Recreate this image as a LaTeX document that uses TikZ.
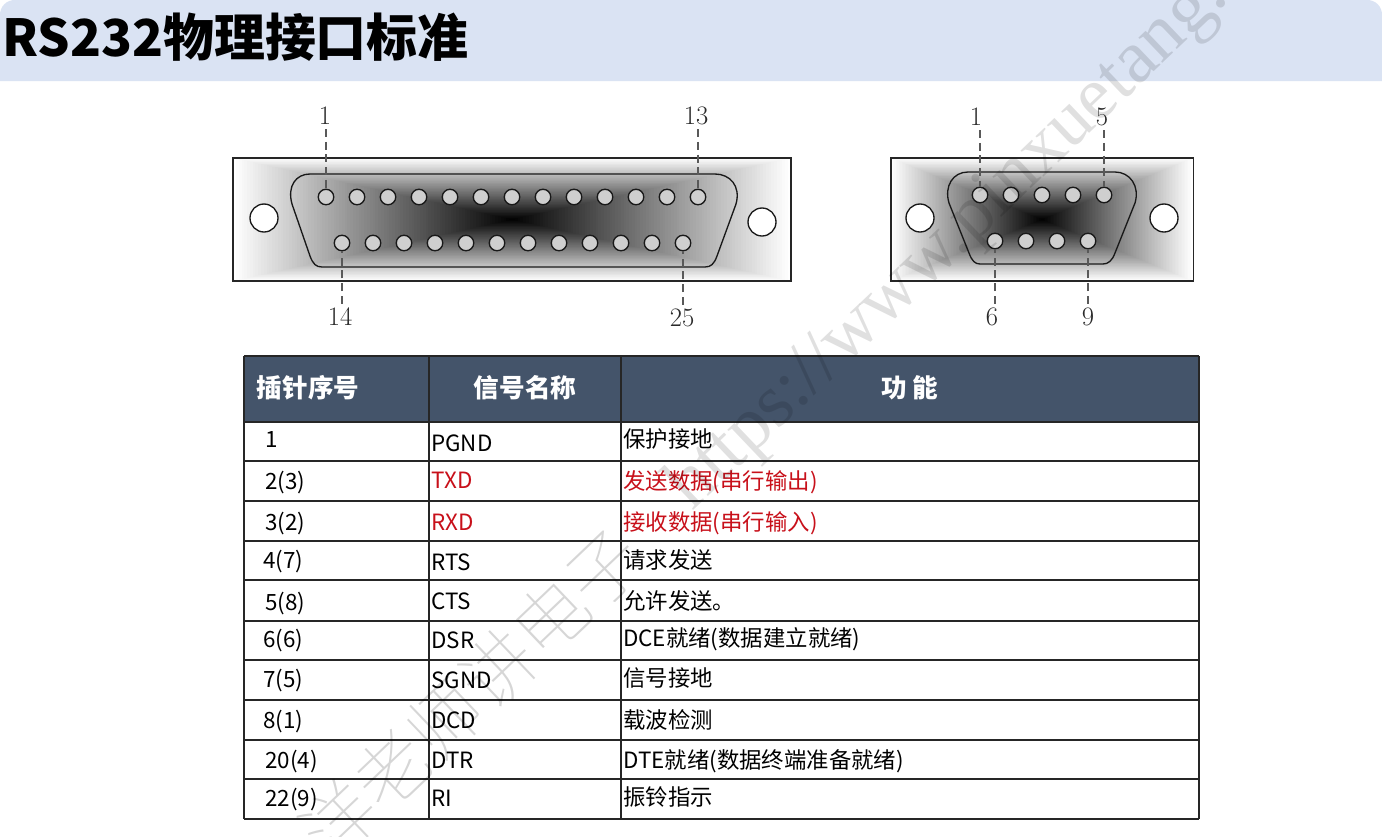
\documentclass[tikz,border=0pt]{standalone}
\usepackage{fontspec}
\usetikzlibrary{calc}
\newfontfamily\cjk{Noto Sans CJK SC}
\newfontfamily\cjkthin{Noto Sans CJK SC}[UprightFont=* Thin]
\newfontfamily\wmlatin{Liberation Serif}
\definecolor{band}{HTML}{DAE3F3}
\definecolor{headfill}{HTML}{44546A}
\definecolor{redtext}{HTML}{C8101A}
\definecolor{pinfill}{HTML}{CFCFCF}
\definecolor{lab}{HTML}{2A2A2A}
\newcommand{\gradbox}[4]{%
  \foreach \k in {100,99,...,1}{%
    \pgfmathsetmacro{\pc}{100-\k}%
    \fill[black!\pc!white] ({#1-#3*0.01*\k},{#2-#4*0.01*\k}) rectangle ({#1+#3*0.01*\k},{#2+#4*0.01*\k});%
  }%
}
\tikzset{
  frameline/.style={draw=black!85,line width=1.2pt},
  shell/.style={draw=black!90,line width=1pt},
  pinhole/.style={circle,draw=black!90,line width=1pt,fill=pinfill,minimum size=11.6pt,inner sep=0pt},
  mounthole/.style={circle,draw=black!90,line width=1pt,fill=white,minimum size=21pt,inner sep=0pt},
  pinnum/.style={inner sep=0pt,text=lab,font=\fontsize{20}{22}\selectfont},
  leader/.style={draw=black!65,line width=0.9pt,dash pattern=on 6pt off 3.5pt},
  rule/.style={draw=black!85,line width=0.85pt},
  cell/.style={anchor=west,inner sep=0pt,text=black,font=\cjk\fontsize{16.8}{18}\selectfont,text height=14pt,text depth=2pt},
  redcell/.style={cell,text=redtext},
  headcell/.style={inner sep=0pt,text=white,font=\cjk\bfseries\fontsize{19.2}{21}\selectfont},
  watermark/.style={inner sep=0pt,rotate=43.6,text=black,text opacity=0.16},
  watermarkurl/.style={watermark,text opacity=0.12},
}
\begin{document}
\begin{tikzpicture}[x=0.75pt,y=-0.75pt]
\useasboundingbox (0,0) rectangle (1382,836);
\fill[white] (0,0) rectangle (1382,836);
% title band
\fill[band] (0,81) [rounded corners=11pt] -- (0,0) -- (1382,0) [sharp corners] -- (1382,81) -- cycle;
\node[anchor=west,inner sep=0pt,font=\cjk\bfseries\fontsize{38.2}{40}\selectfont] (title) at (2,37) {RS232物理接口标准};

% DB25
\gradbox{512}{219.5}{279}{61.5}
\draw[frameline] (233,158) rectangle (791,281);
\draw[shell] (310,174) -- (715,174) .. controls (730,174) and (741,186) .. (736,204)
  -- (717,256) .. controls (714,264) and (711,267) .. (705,267) -- (322,267)
  .. controls (316,267) and (313,264) .. (310,256) -- (292,204)
  .. controls (287,186) and (296,174) .. (310,174) -- cycle;
\foreach \i in {1,...,13} \node[pinhole] (a\i) at ({326+31*(\i-1)},197) {};
\foreach \i in {14,...,25} \node[pinhole] (a\i) at ({342+31*(\i-14)},243) {};
\node[mounthole] (ah1) at (264,218) {};
\node[mounthole] (ah2) at (762,222) {};
\node[pinnum] (al1) at (325,116) {1};
\node[pinnum] (al13) at (696,116) {13};
\node[pinnum] (al14) at (340,317) {14};
\node[pinnum] (al25) at (682,318) {25};
\draw[leader] ([yshift=-3pt]al1.south -| a1.north) -- (a1.north);
\draw[leader] ([yshift=-3pt]al13.south -| a13.north) -- (a13.north);
\draw[leader] ([yshift=3pt]al14.north -| a14.south) -- (a14.south);
\draw[leader] ([yshift=3pt]al25.north -| a25.south) -- (a25.south);

% DB9
\gradbox{1042}{219.5}{151}{61.5}
\draw[frameline] (891,158) rectangle (1193.5,281);
\draw[shell] (968,172) -- (1115,172) .. controls (1130,172) and (1140,186) .. (1135,203)
  -- (1115,253) .. controls (1112,261) and (1108,264) .. (1103,264) -- (980,264)
  .. controls (975,264) and (972,261) .. (969,253) -- (949,203)
  .. controls (944,186) and (953,172) .. (968,172) -- cycle;
\foreach \i in {1,...,5} \node[pinhole] (b\i) at ({980+31*(\i-1)},195) {};
\foreach \i in {6,...,9} \node[pinhole] (b\i) at ({995+31*(\i-6)},241) {};
\node[mounthole] (bh1) at (920,218) {};
\node[mounthole] (bh2) at (1164,218) {};
\node[pinnum] (bl1) at (976,117) {1};
\node[pinnum] (bl5) at (1102,117) {5};
\node[pinnum] (bl6) at (992,317) {6};
\node[pinnum] (bl9) at (1088,317) {9};
\draw[leader] ([yshift=-3pt]bl1.south -| b1.north) -- (b1.north);
\draw[leader] ([yshift=-3pt]bl5.south -| b5.north) -- (b5.north);
\draw[leader] ([yshift=3pt]bl6.north -| b6.south) -- (b6.south);
\draw[leader] ([yshift=3pt]bl9.north -| b9.south) -- (b9.south);

% table
\fill[headfill] (244,356) rectangle (1199,422);
\foreach \yy in {356,422,461,501,541,580,621,660,700,740,779,819}
  \draw[rule] (244,\yy) -- (1199,\yy);
\foreach \xx in {244,429,621,1199}
  \draw[rule] (\xx,356) -- (\xx,819);
\node[headcell] (h1) at (308,388) {插针序号};
\node[headcell] (h2) at (525,388) {信号名称};
\node[headcell] (h3) at (910,388) {功 能};

\node[cell] (r1a) at (265,439) {1};
\node[cell] (r1b) at (431,443) {PGND};
\node[cell] (r1c) at (623,439) {保护接地};
\node[cell] (r2a) at (265,481) {2(3)};
\node[redcell] (r2b) at (431,480) {TXD};
\node[redcell] (r2c) at (623,481) {发送数据(串行输出)};
\node[cell] (r3a) at (265,522) {3(2)};
\node[redcell] (r3b) at (431,522) {RXD};
\node[redcell] (r3c) at (623,522) {接收数据(串行输入)};
\node[cell] (r4a) at (263,560) {4(7)};
\node[cell] (r4b) at (431,562) {RTS};
\node[cell] (r4c) at (623,560) {请求发送};
\node[cell] (r5a) at (265,602) {5(8)};
\node[cell] (r5b) at (431,601) {CTS};
\node[cell] (r5c) at (623,601) {允许发送。};
\node[cell] (r6a) at (263,639) {6(6)};
\node[cell] (r6b) at (431,640) {DSR};
\node[cell] (r6c) at (623,638) {DCE就绪(数据建立就绪)};
\node[cell] (r7a) at (263,679) {7(5)};
\node[cell] (r7b) at (431,680) {SGND};
\node[cell] (r7c) at (623,678) {信号接地};
\node[cell] (r8a) at (263,720) {8(1)};
\node[cell] (r8b) at (431,720) {DCD};
\node[cell] (r8c) at (623,720) {载波检测};
\node[cell] (r9a) at (265,760) {20(4)};
\node[cell] (r9b) at (431,760) {DTR};
\node[cell] (r9c) at (623,760) {DTE就绪(数据终端准备就绪)};
\node[cell] (r10a) at (265,798) {22(9)};
\node[cell] (r10b) at (431,798) {RI};
\node[cell] (r10c) at (623,797) {振铃指示};

% watermark
\node[watermark,anchor=west] (wmcjk) at (312,846) {\cjkthin\fontsize{55}{60}\selectfont 洋老师讲电子};
\node[watermarkurl,anchor=base west] (wmurl) at (692,512) {\wmlatin\fontsize{56.7}{60}\selectfont https://www.pinxuetang.};
\end{tikzpicture}
\end{document}
